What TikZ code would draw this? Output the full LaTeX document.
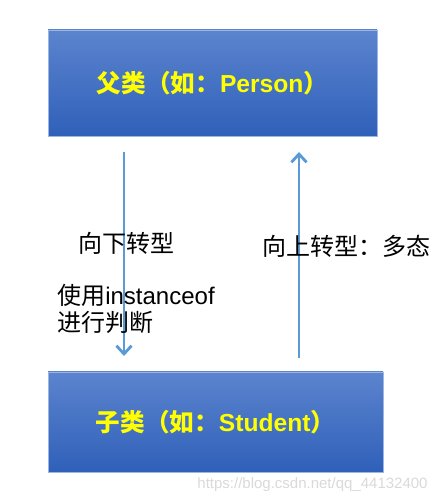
\documentclass[tikz,border=0pt]{standalone}
\usepackage{fontspec}
\setmainfont{Liberation Sans}
\newfontfamily\cjk{Noto Sans CJK SC}
\usepackage{tikz}
\usetikzlibrary{arrows.meta,shadings}
\definecolor{boxtop}{RGB}{92,132,206}
\definecolor{boxbot}{RGB}{47,96,185}
\definecolor{arrowblue}{RGB}{91,155,213}
\definecolor{nameyellow}{RGB}{255,255,0}

\tikzset{
  classbox/.style={top color=boxtop,bottom color=boxbot,draw=boxtop!60!white,line width=0.4pt,
    text=nameyellow,font=\fontsize{21}{25}\selectfont\bfseries},
  cast/.style={draw=arrowblue,line width=2.45pt,-{Straight Barb[length=7pt,width=13pt]}},
  tag/.style={anchor=west,inner sep=0pt,font=\fontsize{20.5}{23}\selectfont\cjk}
}

\begin{document}
\begin{tikzpicture}
  \useasboundingbox (0,0) rectangle (13.29,15.09);
  % classes
  \node[classbox,minimum width=9.87cm,minimum height=3.18cm](parent) at (6.375,12.6)
    {{\cjk\bfseries 父类（如：}Person{\cjk\bfseries ）}};
  \node[classbox,minimum width=10.05cm,minimum height=3cm](child) at (6.465,2.43)
    {{\cjk\bfseries 子类（如：}Student{\cjk\bfseries ）}};
  % arrows
  \coordinate(downtop) at (3.72,10.53);
  \coordinate(downbot) at (3.72,4.41);
  \coordinate(upbot) at (8.97,4.35);
  \coordinate(uptop) at (8.97,10.53);
  \draw[cast](downtop)--(downbot);
  \draw[cast](upbot)--(uptop);
  % labels
  \node[tag](down) at (2.34,7.8){向下转型};
  \node[tag](up) at (7.86,7.71){向上转型：多态};
  \node[tag,align=left](check) at (1.71,5.835){使用\normalfont\fontsize{20.5}{23}\selectfont instanceof\\进行判断};
  \node[text=gray!30,font=\fontsize{12.8}{14}\selectfont](mark) at (9.375,0.54){https://blog.csdn.net/qq\_44132400};
\end{tikzpicture}
\end{document}
